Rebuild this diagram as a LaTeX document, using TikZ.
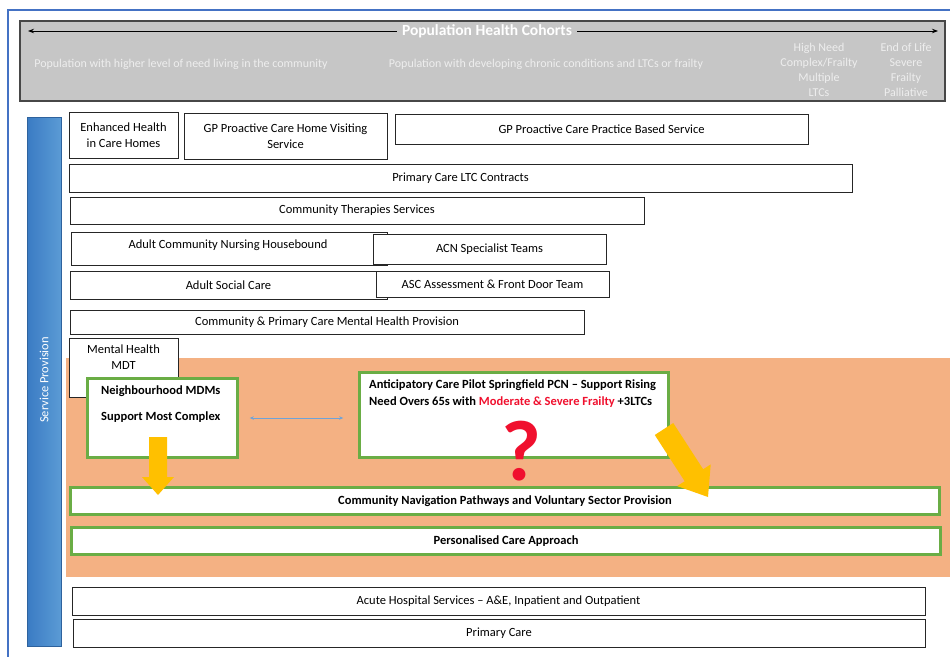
\documentclass[tikz,border=0pt]{standalone}
\usepackage{fontspec}
\setmainfont{Carlito}
\usetikzlibrary{arrows.meta,calc}

\definecolor{frameblue}{HTML}{4472C4}
\definecolor{bannergray}{HTML}{C6C6C6}
\definecolor{bannertext}{HTML}{EEEEEE}
\definecolor{boxline}{HTML}{262626}
\definecolor{leaf}{HTML}{6AAD45}
\definecolor{carezone}{HTML}{F4B183}
\definecolor{gold}{HTML}{FFC000}
\definecolor{barblue}{HTML}{5B9BD5}
\definecolor{bardark}{HTML}{3A7BC4}
\definecolor{linkblue}{HTML}{6FA3D8}
\definecolor{alert}{HTML}{F0102E}

% block arrow: tail, tip, shaft half width, head half width, neck position (fraction)
\newcommand\yarrow[5]{%
  \coordinate (neck) at ($(#1)!#5!(#2)$);
  \fill[gold] ($(#1)!#3!90:(#2)$) -- ($(neck)!#3!90:(#2)$) -- ($(neck)!#4!90:(#2)$)
    -- (#2) -- ($(neck)!#4!-90:(#2)$) -- ($(neck)!#3!-90:(#2)$)
    -- ($(#1)!#3!-90:(#2)$) -- cycle;}

\begin{document}
\begin{tikzpicture}[x=1pt,y=-1pt,
  txt/.style={font=\fontsize{12.5}{16}\selectfont, text=black, inner sep=0pt},
  boldtxt/.style={font=\bfseries\fontsize{12.5}{16}\selectfont, text=black, inner sep=0pt},
  box/.style={draw=boxline, line width=0.9pt, fill=white, inner sep=0pt, align=center,
    font=\fontsize{12.5}{16}\selectfont},
  greenbox/.style={draw=leaf, line width=2.6pt, fill=white, inner sep=0pt, align=center,
    font=\bfseries\fontsize{12.5}{16}\selectfont},
  cohort/.style={font=\fontsize{12}{15}\selectfont, text=bannertext, inner sep=0pt, align=center},
  link/.style={draw=linkblue, line width=0.9pt, {Stealth[length=4pt,width=3.5pt]}-{Stealth[length=4pt,width=3.5pt]}}
]
\useasboundingbox (0,0) rectangle (950,656);
\clip (0,0) rectangle (950,656);
\fill[white] (0,0) rectangle (950,656);

% outer frame
\draw[frameblue, line width=2pt] (8,10) rectangle (970,680);

% population cohorts banner
\node[draw=boxline!85, line width=1.6pt, fill=bannergray, minimum width=925pt, minimum height=80pt, inner sep=0pt] (banner) at (482.5,61) {};
\coordinate (cohortL) at (28,31);
\coordinate (cohortR) at (938,31);
\draw[line width=0.9pt, {Stealth[length=6pt,width=4.5pt]}-{Stealth[length=6pt,width=4.5pt]}] (cohortL) -- (cohortR);
\node[fill=bannergray, inner xsep=5pt, inner ysep=1pt, font=\bfseries\fontsize{15.5}{17}\selectfont, text=white] (cohorttitle) at (487,31) {Population Health Cohorts};
\node[cohort] (cohortA) at (181,64) {Population with higher level of need living in the community};
\node[cohort] (cohortB) at (546,64) {Population with developing chronic conditions and LTCs or frailty};
\node[cohort] (cohortC) at (819,70) {High Need\\Complex/Frailty\\Multiple\\LTCs};
\node[cohort] (cohortD) at (906,70) {End of Life\\Severe\\Frailty\\Palliative};

% service provision bar
\node[draw=bardark!80!black, line width=0.8pt, left color=bardark, right color=barblue, minimum width=34pt, minimum height=529pt, inner sep=0pt] (servicebar) at (44,381.5) {};
\node[rotate=90, font=\fontsize{12.5}{14}\selectfont, text=white] (servicelabel) at (44,380) {Service Provision};

% upper service boxes
\node[box, minimum width=109pt, minimum height=46pt] (ehch) at (123.5,135) {Enhanced Health\\in Care Homes};
\node[box, minimum width=203pt, minimum height=46pt] (gpvisit) at (285.5,136) {GP Proactive Care Home Visiting\\Service};
\node[box, minimum width=413pt, minimum height=30pt] (gppractice) at (601.5,129) {GP Proactive Care Practice Based Service};
\node[box, minimum width=783pt, minimum height=28pt] (ltc) at (460.5,178) {Primary Care LTC Contracts};
\node[box, minimum width=574pt, minimum height=27pt] (therapies) at (357,210.5) {Community Therapies Services};
\node[box, minimum width=316pt, minimum height=33pt] (acn) at (229,248.5) {};
\node[txt] (acnlabel) at (228,245) {Adult Community Nursing Housebound};
\node[box, minimum width=233pt, minimum height=30pt] (acnspec) at (489.5,249) {ACN Specialist Teams};
\node[box, minimum width=317pt, minimum height=28pt] (asc) at (228.5,285) {Adult Social Care};
\node[box, minimum width=233pt, minimum height=26pt] (ascfront) at (492.5,284) {ASC Assessment \& Front Door Team};
\node[box, minimum width=514pt, minimum height=24pt] (mhprov) at (327,322) {Community \& Primary Care Mental Health Provision};

% anticipatory care zone
\node[fill=carezone, minimum width=884pt, minimum height=219pt, inner sep=0pt] (zone) at (508,467.5) {};

\node[box, minimum width=109pt, minimum height=59pt] (mdt) at (123.5,367.5) {};
\node[txt, anchor=north, align=center] (mdtlabel) at ($(mdt.north)+(0,7)$) {Mental Health\\MDT};

\node[greenbox, minimum width=150pt, minimum height=79pt] (mdm) at (162.5,418) {};
\node[boldtxt, anchor=north west, align=left] (mdmlabel) at (101,386) {Neighbourhood MDMs\\[10pt]Support Most Complex};

\node[greenbox, minimum width=309pt, minimum height=85pt] (acp) at (514,415) {};
\node[boldtxt, anchor=north west, align=left, font=\bfseries\fontsize{12.5}{17}\selectfont] (acplabel) at (369,380)
  {Anticipatory Care Pilot Springfield PCN -- Support Rising\\Need Overs 65s with \textcolor{alert}{Moderate \& Severe Frailty} +3LTCs};
\node[anchor=base, text=alert, font=\bfseries\fontsize{86}{86}\selectfont, inner sep=0pt] (query) at (521,480) {?};

\draw[link] ([xshift=11pt]mdm.east) -- ([xshift=-15pt]acp.west |- mdm.east);

\node[greenbox, minimum width=869pt, minimum height=27pt] (nav) at (505,501) {Community Navigation Pathways and Voluntary Sector Provision};
\node[greenbox, minimum width=869pt, minimum height=27pt] (pca) at (506,541) {Personalised Care Approach};

% flow arrows into the community pathways
\coordinate (mdmtail) at (158,437);
\coordinate (mdmtip) at (158,495);
\yarrow{mdmtail}{mdmtip}{9pt}{16pt}{0.69}
\coordinate (acptail) at (664,429);
\coordinate (acptip) at (708,497);
\yarrow{acptail}{acptip}{11pt}{20pt}{0.68}

% lower service boxes
\node[box, minimum width=853pt, minimum height=28pt] (acute) at (498.5,601) {Acute Hospital Services -- A\&E, Inpatient and Outpatient};
\node[box, minimum width=852pt, minimum height=28pt] (primary) at (499,633) {Primary Care};
\end{tikzpicture}
\end{document}
